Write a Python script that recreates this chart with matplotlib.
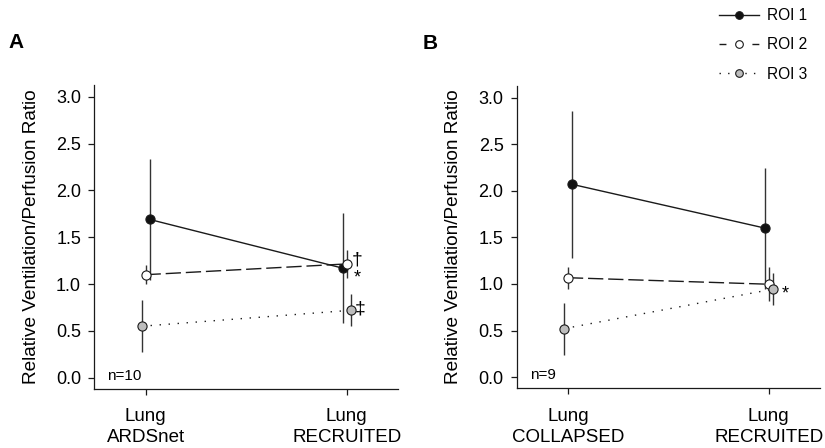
import numpy as np
import matplotlib
matplotlib.use("Agg")
from matplotlib import pyplot as plt
from matplotlib.lines import Line2D

plt.rcParams['font.family'] = ['Liberation Sans', 'DejaVu Sans']

# data (mean, half-length of error bar)
roi_names = ["ROI 1", "ROI 2", "ROI 3"]

labels_A = ["Lung\nARDSnet", "Lung\nRECRUITED"]
roi1_A = [1.69, 1.17]
roi1_A_err = [0.65, 0.585]
roi2_A = [1.10, 1.215]
roi2_A_err = [0.10, 0.15]
roi3_A = [0.55, 0.72]
roi3_A_err = [0.277, 0.17]

labels_B = ["Lung\nCOLLAPSED", "Lung\nRECRUITED"]
roi1_B = [2.07, 1.60]
roi1_B_err = [0.79, 0.65]
roi2_B = [1.067, 0.997]
roi2_B_err = [0.117, 0.18]
roi3_B = [0.52, 0.944]
roi3_B_err = [0.28, 0.17]

yticks = [0.0, 0.5, 1.0, 1.5, 2.0, 2.5, 3.0]

# styles
offsets = [np.array([0.02, -0.02]), np.array([0.0, 0.0]), np.array([-0.02, 0.02])]
linestyles = ['-', (0, (11, 3.5)), (0, (1, 5.5))]
fills = ['#111111', 'white', '#bdbdbd']
ink = '#1a1a1a'


def draw_panel(ax, means, errs, xlabels, ntext):
    x = np.arange(len(xlabels))
    for i in range(3):
        xs = x + offsets[i]
        ax.errorbar(xs, means[i], yerr=errs[i], fmt='none', ecolor='#333333',
                    elinewidth=1.0, capsize=0, zorder=2)
        ax.plot(xs, means[i], linestyle=linestyles[i], color=ink, lw=1.0,
                marker='o', ms=6.6, mfc=fills[i], mec=ink, mew=0.8, zorder=3 + i)
    ax.set_xlim(-0.255, 1.255)
    ax.set_ylim(-0.12, 3.125)
    ax.set_xticks(x)
    ax.set_xticklabels(xlabels, fontsize=13.5, linespacing=1.3)
    ax.set_yticks(yticks)
    ax.set_yticklabels([f"{v:.1f}" for v in yticks], fontsize=13)
    ax.tick_params(axis='x', length=4.5, width=0.9, pad=9.5, color=ink)
    ax.tick_params(axis='y', length=4.5, width=0.9, pad=5, color=ink)
    for s in ['top', 'right']:
        ax.spines[s].set_visible(False)
    for s in ['left', 'bottom']:
        ax.spines[s].set_linewidth(0.9)
        ax.spines[s].set_color(ink)
    ax.set_ylabel("Relative Ventilation/Perfusion Ratio", fontsize=13.7)
    ax.yaxis.set_label_coords(-0.18, 0.5)
    ax.text(-0.19, 0.02, ntext, fontsize=11, va='center', ha='left')


fig = plt.figure(figsize=(8.25, 4.48), dpi=100)
axA = fig.add_axes([0.1143, 0.1317, 0.3681, 0.6786])
axB = fig.add_axes([0.6263, 0.1333, 0.3676, 0.6747])

draw_panel(axA, [roi1_A, roi2_A, roi3_A], [roi1_A_err, roi2_A_err, roi3_A_err], labels_A, "n=10")
draw_panel(axB, [roi1_B, roi2_B, roi3_B], [roi1_B_err, roi2_B_err, roi3_B_err], labels_B, "n=9")

# significance marks
axA.text(1.053, 1.26, "\u2020", fontsize=14, ha='center', va='center')
axA.text(1.05, 1.06, "*", fontsize=13, ha='center', va='center')
axA.text(1.066, 0.735, "\u2021", fontsize=14, ha='center', va='center')
axB.text(1.08, 0.89, "*", fontsize=13, ha='center', va='center')

fig.text(16 / 825, 1 - 43 / 448, "A", fontsize=15, fontweight='bold', ha='center', va='center')
fig.text(430.5 / 825, 1 - 43.5 / 448, "B", fontsize=15, fontweight='bold', ha='center', va='center')

handles = [
    Line2D([], [], color=ink, lw=1.0, ls='-', marker='o', ms=5.5, mfc=fills[0], mec=ink, mew=0.8),
    Line2D([], [], color=ink, lw=1.0, ls=(0, (5, 18.7)), marker='o', ms=5.5, mfc=fills[1], mec=ink, mew=0.8),
    Line2D([], [], color=ink, lw=1.0, ls=(0, (1, 5.2)), marker='o', ms=5.5, mfc=fills[2], mec=ink, mew=0.8),
]
fig.legend(handles, roi_names, loc='upper left', bbox_to_anchor=(719 / 825, 1 - 8 / 448),
           bbox_transform=fig.transFigure, frameon=False, fontsize=11.2,
           handlelength=2.6, handletextpad=0.5, labelspacing=0.92,
           borderpad=0, borderaxespad=0)

fig.savefig("out.png", dpi=100)
